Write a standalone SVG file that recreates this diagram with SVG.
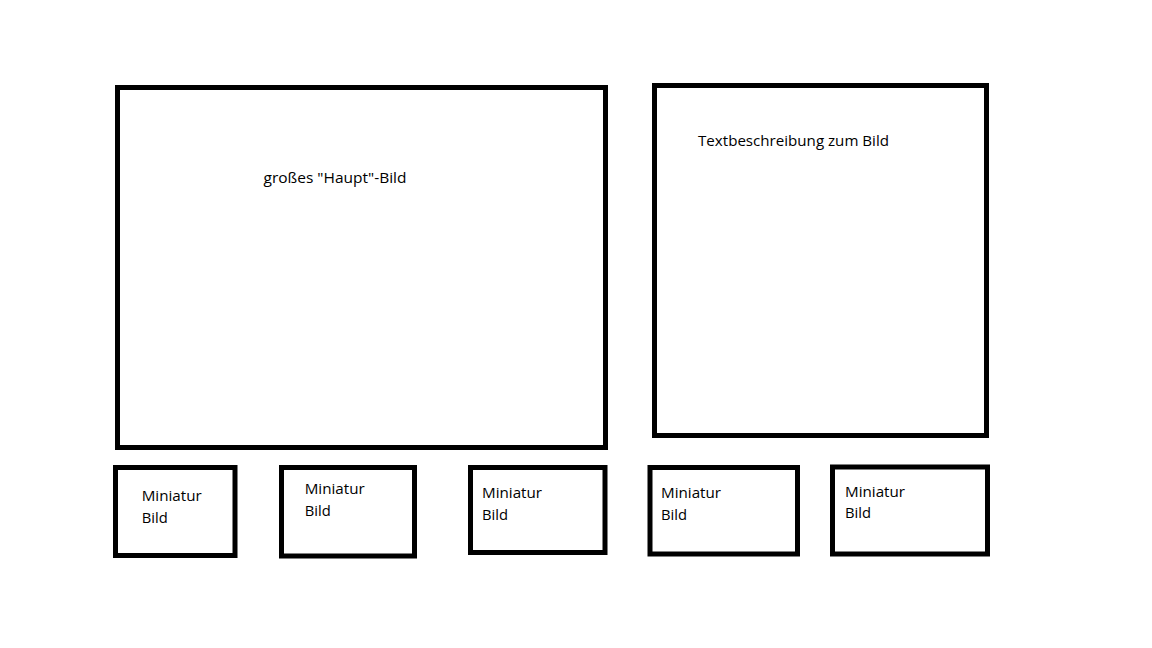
<svg xmlns="http://www.w3.org/2000/svg" width="1152" height="648" viewBox="0 0 1152 648">
  <style>
    .box { fill: #ffffff; stroke: #000000; stroke-width: 5; }
    .lbl { font-family: "Open Sans", "Liberation Sans", Arial, sans-serif; font-size: 14.5px; fill: #000000; }
  </style>
  <rect x="0" y="0" width="1152" height="648" fill="#ffffff"/>
  <g id="connectors"></g>
  <g id="haupt-bild">
    <rect class="box" x="117.5" y="87.5" width="488" height="360"/>
    <text class="lbl" x="263.5" y="183" textLength="143" lengthAdjust="spacingAndGlyphs">großes "Haupt"-Bild</text>
  </g>
  <g id="textbeschreibung">
    <rect class="box" x="654.5" y="85.5" width="332" height="350"/>
    <text class="lbl" x="698" y="145.5" textLength="191" lengthAdjust="spacingAndGlyphs">Textbeschreibung zum Bild</text>
  </g>
  <g id="miniatur-1">
    <rect class="box" x="115.5" y="467.5" width="119.5" height="88"/>
    <text class="lbl" x="141.7" y="501" textLength="60" lengthAdjust="spacingAndGlyphs">Miniatur</text>
    <text class="lbl" x="141.7" y="523" textLength="26" lengthAdjust="spacingAndGlyphs">Bild</text>
  </g>
  <g id="miniatur-2">
    <rect class="box" x="281.5" y="467.5" width="133" height="88.5"/>
    <text class="lbl" x="304.7" y="494" textLength="60" lengthAdjust="spacingAndGlyphs">Miniatur</text>
    <text class="lbl" x="304.7" y="516" textLength="26" lengthAdjust="spacingAndGlyphs">Bild</text>
  </g>
  <g id="miniatur-3">
    <rect class="box" x="470.5" y="467.5" width="134.5" height="85"/>
    <text class="lbl" x="482" y="498.3" textLength="60" lengthAdjust="spacingAndGlyphs">Miniatur</text>
    <text class="lbl" x="482" y="520" textLength="26" lengthAdjust="spacingAndGlyphs">Bild</text>
  </g>
  <g id="miniatur-4">
    <rect class="box" x="650" y="467.5" width="147.5" height="86.5"/>
    <text class="lbl" x="661" y="498.3" textLength="60" lengthAdjust="spacingAndGlyphs">Miniatur</text>
    <text class="lbl" x="661" y="520" textLength="26" lengthAdjust="spacingAndGlyphs">Bild</text>
  </g>
  <g id="miniatur-5">
    <rect class="box" x="832.5" y="467" width="155" height="87"/>
    <text class="lbl" x="845" y="497.3" textLength="60" lengthAdjust="spacingAndGlyphs">Miniatur</text>
    <text class="lbl" x="845" y="518.3" textLength="26" lengthAdjust="spacingAndGlyphs">Bild</text>
  </g>
</svg>
